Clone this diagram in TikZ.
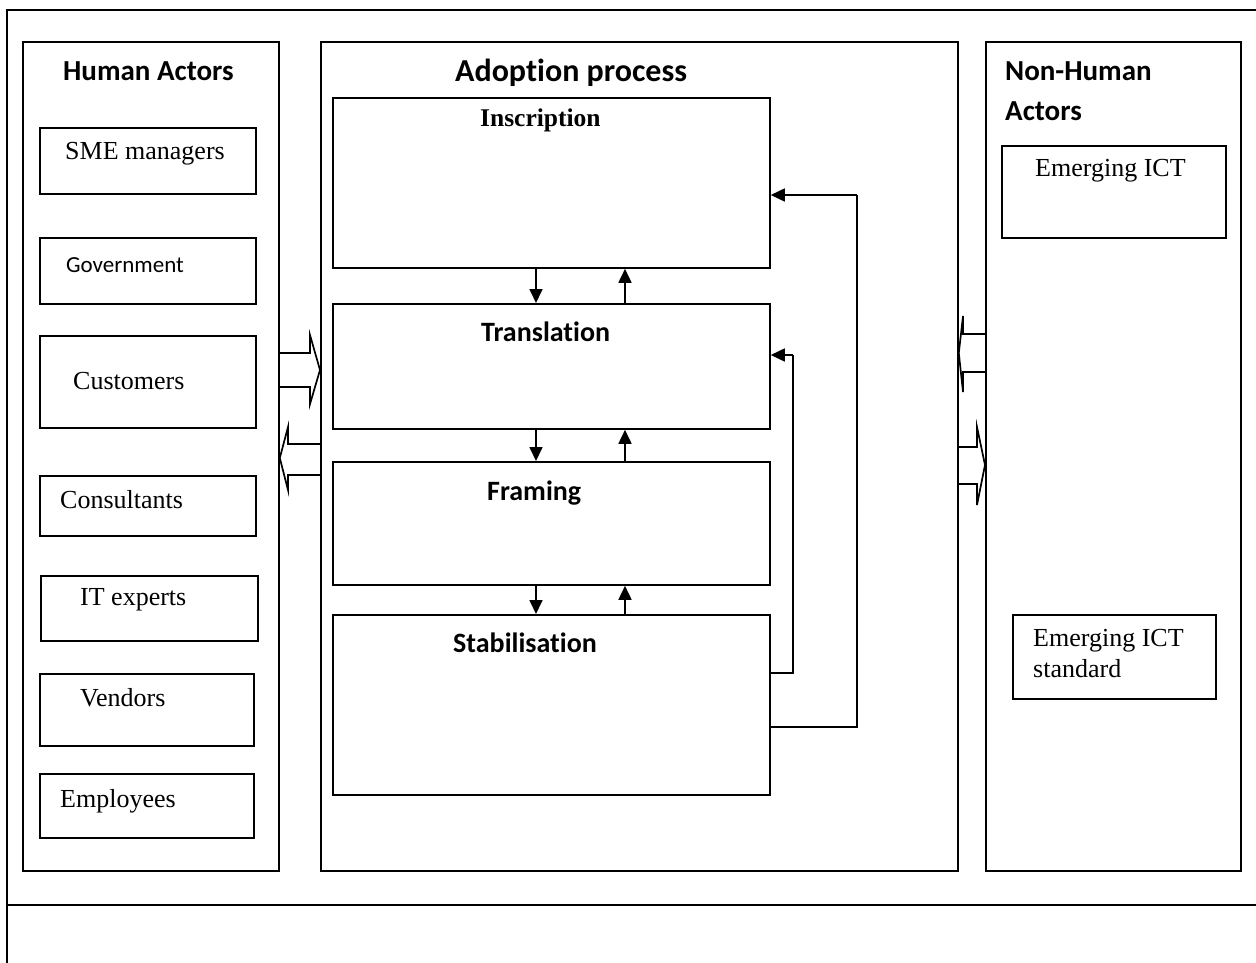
\documentclass[tikz,border=0pt]{standalone}
\usepackage{fontspec}
\setmainfont{Liberation Serif}
\newfontfamily\calfont[Ligatures=NoCommon]{Carlito}
\usetikzlibrary{arrows.meta}
\tikzset{
  frame/.style={draw, line width=1.8pt},
  box/.style={draw, line width=1.8pt, anchor=north west, inner sep=0pt},
  hd/.style={anchor=base west, inner sep=0pt, font=\calfont\bfseries\fontsize{29}{33}\selectfont},
  sub/.style={anchor=base west, inner sep=0pt, font=\fontsize{26}{30}\selectfont},
  subsans/.style={anchor=base west, inner sep=0pt, font=\calfont\fontsize{23}{27}\selectfont},
  stage/.style={anchor=base west, inner sep=0pt, font=\calfont\bfseries\fontsize{28}{32}\selectfont},
  flow/.style={line width=1.7pt, -{Triangle[length=14pt,width=13pt]}},
  fb/.style={line width=1.7pt},
  blk/.style={line width=1.7pt, line join=miter}
}
\begin{document}
\begin{tikzpicture}[x=1pt,y=-1pt]
\useasboundingbox (0,0) rectangle (1256,963);
% outer frame
\draw[frame] (1256,10) -- (7,10) -- (7,963);
\draw[frame] (7,905) -- (1256,905);
% columns
\node[box, minimum width=256pt, minimum height=829pt] (human) at (22,41) {};
\node[box, minimum width=637pt, minimum height=829pt] (adopt) at (320,41) {};
\node[box, minimum width=255pt, minimum height=829pt] (nonhuman) at (985,41) {};
% headings
\node[hd] (thuman) at (63,81) {Human Actors};
\node[hd, font=\calfont\bfseries\fontsize{32}{36}\selectfont] (tadopt) at (455,82) {Adoption process};
\node[hd] (tnh1) at (1005,81) {Non-Human};
\node[hd] (tnh2) at (1005,121) {Actors};
% human actor boxes
\node[box, minimum width=216pt, minimum height=66pt] (sme) at (39,127) {};
\node[box, minimum width=216pt, minimum height=66pt] (gov) at (39,237) {};
\node[box, minimum width=216pt, minimum height=92pt] (cust) at (39,335) {};
\node[box, minimum width=216pt, minimum height=60pt] (cons) at (39,475) {};
\node[box, minimum width=217pt, minimum height=65pt] (itex) at (40,575) {};
\node[box, minimum width=214pt, minimum height=72pt] (vend) at (39,673) {};
\node[box, minimum width=214pt, minimum height=64pt] (empl) at (39,773) {};
\node[sub] (tsme) at (65,160) {SME managers};
\node[subsans] (tgov) at (66,272) {Government};
\node[sub] (tcust) at (73,389) {Customers};
\node[sub] (tcons) at (60,508) {Consultants};
\node[sub] (titex) at (80,605) {IT experts};
\node[sub] (tvend) at (80,706) {Vendors};
\node[sub] (templ) at (60,807) {Employees};
% adoption stages
\node[box, minimum width=437pt, minimum height=170pt] (insc) at (332,97) {};
\node[box, minimum width=437pt, minimum height=125pt] (trans) at (332,303) {};
\node[box, minimum width=437pt, minimum height=123pt] (fram) at (332,461) {};
\node[box, minimum width=437pt, minimum height=180pt] (stab) at (332,614) {};
\node[anchor=base west, inner sep=0pt, font=\bfseries\fontsize{25.5}{29}\selectfont] (tinsc) at (480,127) {Inscription};
\node[stage] (ttrans) at (481,341) {Translation};
\node[stage] (tfram) at (487,500) {Framing};
\node[stage] (tstab) at (453,652) {Stabilisation};
% vertical arrows
\draw[flow] (insc.south -| 536,0) -- (trans.north -| 536,0);
\draw[flow] (trans.north -| 625,0) -- (insc.south -| 625,0);
\draw[flow] (trans.south -| 536,0) -- (fram.north -| 536,0);
\draw[flow] (fram.north -| 625,0) -- (trans.south -| 625,0);
\draw[flow] (fram.south -| 536,0) -- (stab.north -| 536,0);
\draw[flow] (stab.north -| 625,0) -- (fram.south -| 625,0);
% feedback loops
\draw[fb] (stab.east |- 0,673) -- (793,673) -- (793,355);
\draw[flow] (793,355) -- (trans.east |- 0,355);
\draw[fb] (stab.east |- 0,727) -- (857,727) -- (857,195);
\draw[flow] (857,195) -- (insc.east |- 0,195);
% non-human boxes
\node[box, minimum width=224pt, minimum height=92pt] (ict) at (1001,145) {};
\node[box, minimum width=203pt, minimum height=84pt] (ictstd) at (1012,614) {};
\node[sub] (tict) at (1035,177) {Emerging ICT};
\node[sub] (tictstd1) at (1033,646) {Emerging ICT};
\node[sub] (tictstd2) at (1033,677) {standard};
% block arrows left
\draw[blk] (human.east |- 0,353) -- (310,353) -- (310,335) -- (adopt.west |- 0,370) -- (310,404) -- (310,387) -- (human.east |- 0,387);
\draw[blk] (adopt.west |- 0,444) -- (288,444) -- (288,427) -- (human.east |- 0,458) -- (288,490) -- (288,475) -- (adopt.west |- 0,475);
% block arrows right
\draw[blk] (nonhuman.west |- 0,334) -- (963,334) -- (963,316) -- (adopt.east |- 0,353) -- (963,392) -- (963,372) -- (nonhuman.west |- 0,372);
\draw[blk] (adopt.east |- 0,447) -- (977,447) -- (977,427) -- (nonhuman.west |- 0,465) -- (977,505) -- (977,484) -- (adopt.east |- 0,484);
\end{tikzpicture}
\end{document}
